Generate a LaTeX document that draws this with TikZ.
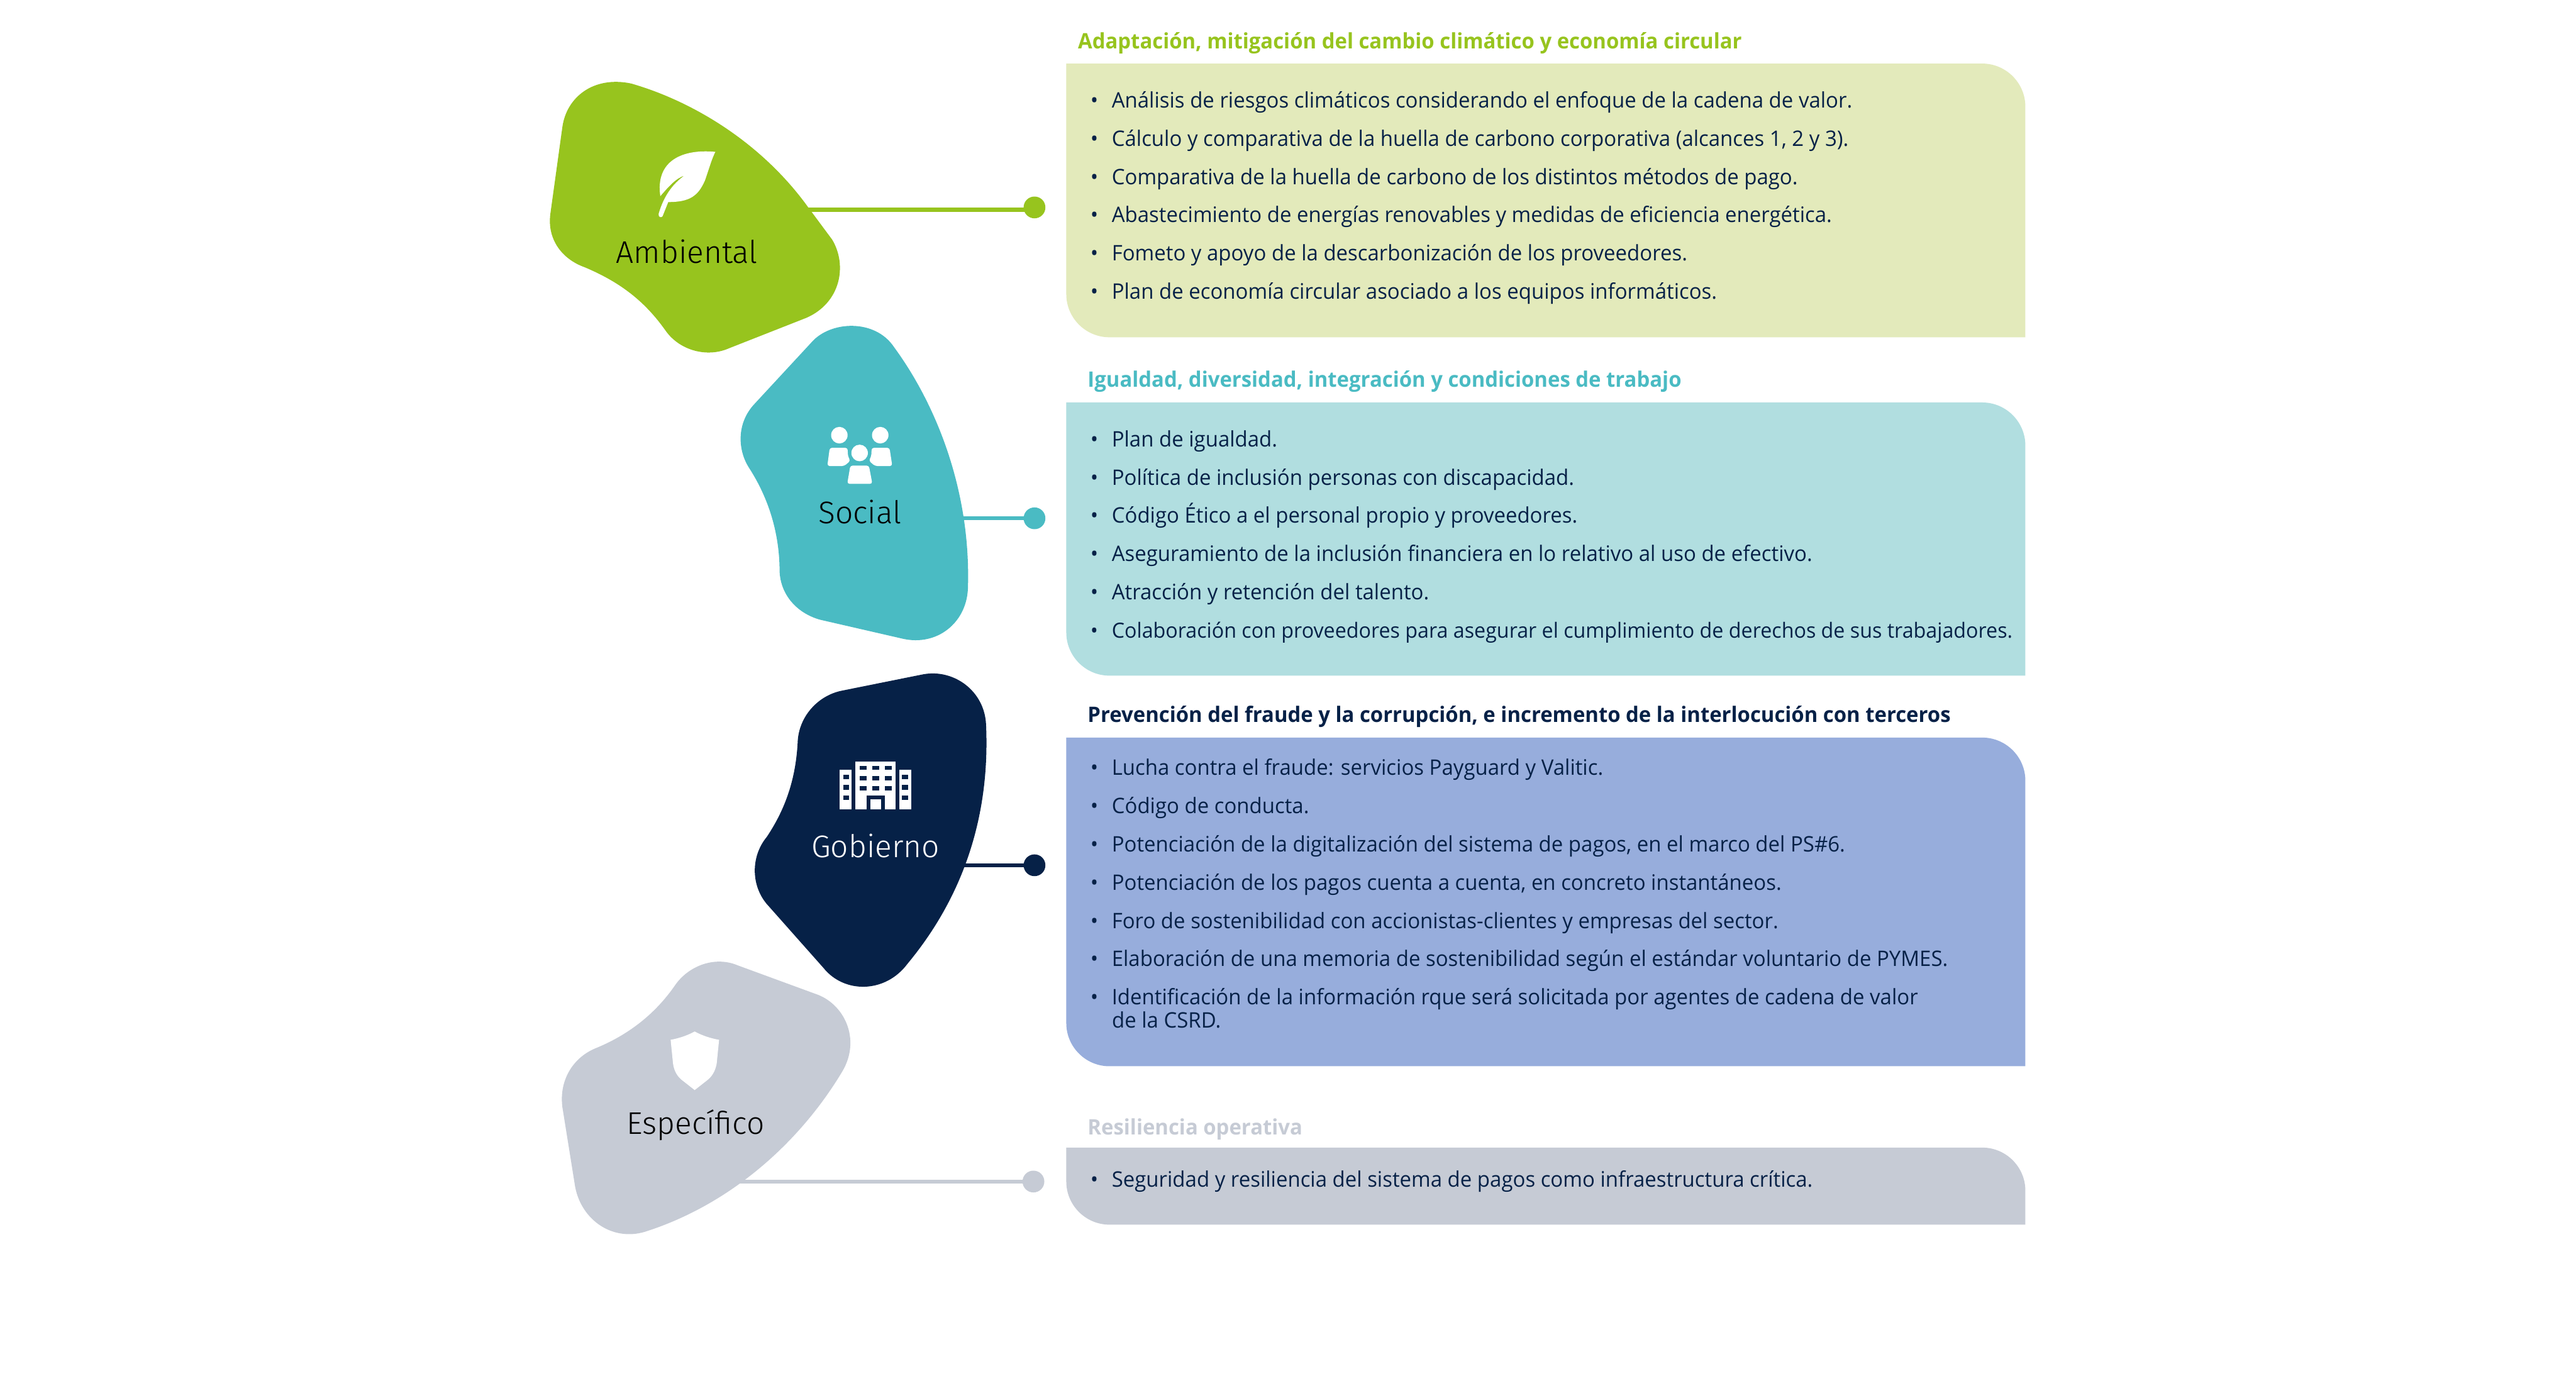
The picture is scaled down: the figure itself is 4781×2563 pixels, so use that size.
\documentclass[tikz,border=0pt]{standalone}
\usepackage{fontspec}
\setmainfont{Open Sans}
\newfontfamily\bodyfont[FakeStretch=0.97]{Open Sans}
\newfontfamily\titlefont[FakeStretch=0.97]{Open Sans Bold}
\newfontfamily\catfont{Fira Sans Light}
\definecolor{cgreen}{HTML}{97C41E}
\definecolor{cgreenl}{HTML}{E3EABB}
\definecolor{cteal}{HTML}{4ABBC3}
\definecolor{cteall}{HTML}{B1DEE0}
\definecolor{cnavy}{HTML}{062147}
\definecolor{cblue}{HTML}{97ADDC}
\definecolor{cgrey}{HTML}{C6CBD5}
\tikzset{
  bodyline/.style={anchor=base west,inner sep=0pt,text=cnavy,font=\bodyfont\fontsize{11.28}{12.2}\selectfont},
  bodytight/.style={bodyline,font=\bodyfont\fontsize{11.03}{12.2}\selectfont},
  paneltitle/.style={anchor=base west,inner sep=0pt,font=\titlefont\fontsize{11.25}{13}\selectfont},
  catlabel/.style={anchor=base,inner sep=0pt,font=\catfont\fontsize{16.5}{20}\selectfont},
  dotnode/.style={circle,inner sep=0pt,minimum size=11.5pt},
  linker/.style={line width=2.2pt},
  zoomA/.style={shift={(980,100)},xscale=0.63776,yscale=0.73340},
  zoomB/.style={shift={(980,1220)},xscale=0.63776,yscale=0.70153},
}
\newcommand{\bl}{\makebox[11.3pt][l]{•}}
\newcommand{\panelbox}[5]{% color, x0, y0, x1, y1
  \fill[#1] (#2,#3) -- (#4-80,#3) .. controls (#4-36,#3) and (#4,#3+36) .. (#4,#3+80) -- (#4,#5) -- (#2+80,#5) .. controls (#2+36,#5) and (#2,#5-36) .. (#2,#5-80) -- cycle;}
\begin{document}
\begin{tikzpicture}[x=0.01cm,y=-0.01cm]
\useasboundingbox (0,0) rectangle (4781,2563);
\fill[white] (0,0) rectangle (4781,2563);

% panels
\panelbox{cgreenl}{1979}{118}{3759}{626}
\panelbox{cteall}{1979}{747}{3759}{1254}
\panelbox{cblue}{1979}{1369}{3759}{1979}
\panelbox{cgrey}{1979}{2130}{3759}{2273}

% connector end points and dots
\coordinate (sA) at (1480,389);
\coordinate (sB) at (1740,962);
\coordinate (sC) at (1740,1606);
\coordinate (sD) at (1300,2193);
\node[dotnode,fill=cgreen] (dA) at (1920,385) {};
\node[dotnode,fill=cteal] (dB) at (1920,962) {};
\node[dotnode,fill=cnavy] (dC) at (1920,1606) {};
\node[dotnode,fill=cgrey] (dD) at (1918,2193) {};
\draw[linker,cgreen] (sA) -- (sA -| dA);
\draw[linker,cteal] (sB) -- (sB -| dB);
\draw[linker,cnavy] (sC) -- (sC -| dC);
\draw[linker,cgrey] (sD) -- (sD -| dD);

% green blob and leaf
\begin{scope}[zoomA]
\fill[cgreen] (100,185) .. controls (112,110) and (190,55) .. (300,75)
  .. controls (480,120) and (680,225) .. (815,388)
  -- (885,470) .. controls (930,535) and (910,630) .. (810,668)
  -- (585,745) .. controls (520,770) and (440,750) .. (400,700)
  .. controls (335,620) and (260,575) .. (165,540)
  .. controls (100,520) and (55,470) .. (65,405) -- cycle;
\fill[white] (545,248) .. controls (450,240) and (370,270) .. (385,360)
  .. controls (410,335) and (430,315) .. (455,308)
  .. controls (420,330) and (395,360) .. (380,405)
  .. controls (378,414) and (390,416) .. (392,410)
  -- (408,375) .. controls (470,375) and (495,360) .. (515,320)
  .. controls (525,295) and (535,265) .. (545,248) -- cycle;
% teal blob and people
\fill[cteal] (660,885) -- (825,730) .. controls (880,675) and (1010,670) .. (1065,742)
  .. controls (1190,890) and (1290,1110) .. (1280,1355)
  .. controls (1275,1440) and (1190,1500) .. (1090,1480)
  -- (850,1432) .. controls (780,1415) and (730,1365) .. (732,1300)
  .. controls (730,1210) and (700,1125) .. (645,1050)
  .. controls (610,1005) and (605,935) .. (660,885) -- cycle;
\fill[white] (906,965) ellipse [x radius=24,y radius=21];
\fill[white] (1025,965) ellipse [x radius=24,y radius=21];
\fill[white] (965,1010) ellipse [x radius=24,y radius=21];
\fill[white,rounded corners=1.2pt] (878,997) -- (930,997) -- (931,1018) -- (938,1030) -- (920,1043) -- (871,1043) -- cycle;
\fill[white,rounded corners=1.2pt] (1052,997) -- (1000,997) -- (999,1018) -- (992,1030) -- (1010,1043) -- (1060,1043) -- cycle;
\fill[white,rounded corners=1.2pt] (938,1042) -- (992,1042) -- (1002,1088) -- (929,1088) -- cycle;
\end{scope}

% navy blob, building, grey blob, shield
\begin{scope}[zoomB]
\fill[cnavy] (915,88) -- (1150,45) .. controls (1240,30) and (1330,90) .. (1333,180)
  .. controls (1345,430) and (1260,640) .. (1105,810)
  .. controls (1040,890) and (920,890) .. (860,822)
  -- (700,658) .. controls (650,610) and (645,530) .. (695,475)
  .. controls (750,400) and (780,320) .. (785,220)
  .. controls (790,155) and (845,100) .. (915,88) -- cycle;
\fill[white] (907,298) rectangle (942,402);
\fill[white] (953,275) rectangle (1069,402);
\fill[white] (1081,298) rectangle (1116,402);
\foreach \wx in {966,1002,1038}
  \foreach \wy in {287,314,341}
    \fill[cnavy] (\wx,\wy) rectangle ++(20,11);
\foreach \wx in {917,1088}
  \foreach \wy in {311,338,366}
    \fill[cnavy] (\wx,\wy) rectangle ++(18,12);
\fill[cnavy] (985,365) rectangle (1038,402);
\fill[white] (996,375) rectangle (1028,402);
\fill[cgrey] (610,815) -- (835,890) .. controls (920,915) and (970,1010) .. (915,1095)
  .. controls (790,1285) and (590,1445) .. (350,1517)
  .. controls (250,1550) and (155,1490) .. (137,1400)
  -- (100,1190) .. controls (90,1120) and (130,1060) .. (195,1035)
  .. controls (290,1000) and (370,945) .. (430,865)
  .. controls (470,815) and (545,790) .. (610,815) -- cycle;
\fill[white] (485,990) .. controls (465,1000) and (440,1008) .. (415,1012)
  -- (422,1075) .. controls (425,1095) and (435,1110) .. (450,1120)
  -- (485,1145) -- (520,1120) .. controls (535,1110) and (545,1095) .. (549,1075)
  -- (556,1012) .. controls (530,1008) and (505,1000) .. (485,990) -- cycle;
\end{scope}

% category labels
\node[catlabel,text=black] (lA) at (1275,488) {Ambiental};
\node[catlabel,text=black] (lB) at (1596,972) {Social};
\node[catlabel,text=white] (lC) at (1625,1592) {Gobierno};
\node[catlabel,text=black] (lD) at (1291,2105) {Específico};

% panel titles
\node[paneltitle,text=cgreen] (tA) at (2000,90) {Adaptación, mitigación del cambio climático y economía circular};
\node[paneltitle,text=cteal] (tB) at (2018,718) {Igualdad, diversidad, integración y condiciones de trabajo};
\node[paneltitle,text=cnavy] (tC) at (2018,1340) {Prevención del fraude y la corrupción, e incremento de la interlocución con terceros};
\node[paneltitle,text=cgrey] (tD) at (2018,2106) {Resiliencia operativa};

% panel A text
\node[bodyline] (a1) at (2023,200) {\bl Análisis de riesgos climáticos considerando el enfoque de la cadena de valor.};
\node[bodyline] (a2) at (2023,271) {\bl Cálculo y comparativa de la huella de carbono corporativa (alcances 1, 2 y 3).};
\node[bodyline] (a3) at (2023,342) {\bl Comparativa de la huella de carbono de los distintos métodos de pago.};
\node[bodyline] (a4) at (2023,413) {\bl Abastecimiento de energías renovables y medidas de eficiencia energética.};
\node[bodyline] (a5) at (2023,484) {\bl Fometo y apoyo de la descarbonización de los proveedores.};
\node[bodyline] (a6) at (2023,555) {\bl Plan de economía circular asociado a los equipos informáticos.};
% panel B text
\node[bodyline] (b1) at (2023,829) {\bl Plan de igualdad.};
\node[bodyline] (b2) at (2023,900) {\bl Política de inclusión personas con discapacidad.};
\node[bodyline] (b3) at (2023,971) {\bl Código Ético a el personal propio y proveedores.};
\node[bodyline] (b4) at (2023,1042) {\bl Aseguramiento de la inclusión financiera en lo relativo al uso de efectivo.};
\node[bodyline] (b5) at (2023,1113) {\bl Atracción y retención del talento.};
\node[bodytight] (b6) at (2023,1184) {\bl Colaboración con proveedores para asegurar el cumplimiento de derechos de sus trabajadores.};
% panel C text
\node[bodyline] (c1) at (2023,1439) {\bl Lucha contra el fraude: servicios Payguard y Valitic.};
\node[bodyline] (c2) at (2023,1510) {\bl Código de conducta.};
\node[bodyline] (c3) at (2023,1581) {\bl Potenciación de la digitalización del sistema de pagos, en el marco del PS\#6.};
\node[bodyline] (c4) at (2023,1652) {\bl Potenciación de los pagos cuenta a cuenta, en concreto instantáneos.};
\node[bodyline] (c5) at (2023,1723) {\bl Foro de sostenibilidad con accionistas-clientes y empresas del sector.};
\node[bodyline] (c6) at (2023,1794) {\bl Elaboración de una memoria de sostenibilidad según el estándar voluntario de PYMES.};
\node[bodyline] (c7) at (2023,1865) {\bl Identificación de la información rque será solicitada por agentes de cadena de valor};
\node[bodyline] (c8) at (2063,1908) {de la CSRD.};
% panel D text
\node[bodyline] (d1) at (2023,2203) {\bl Seguridad y resiliencia del sistema de pagos como infraestructura crítica.};
\end{tikzpicture}
\end{document}
